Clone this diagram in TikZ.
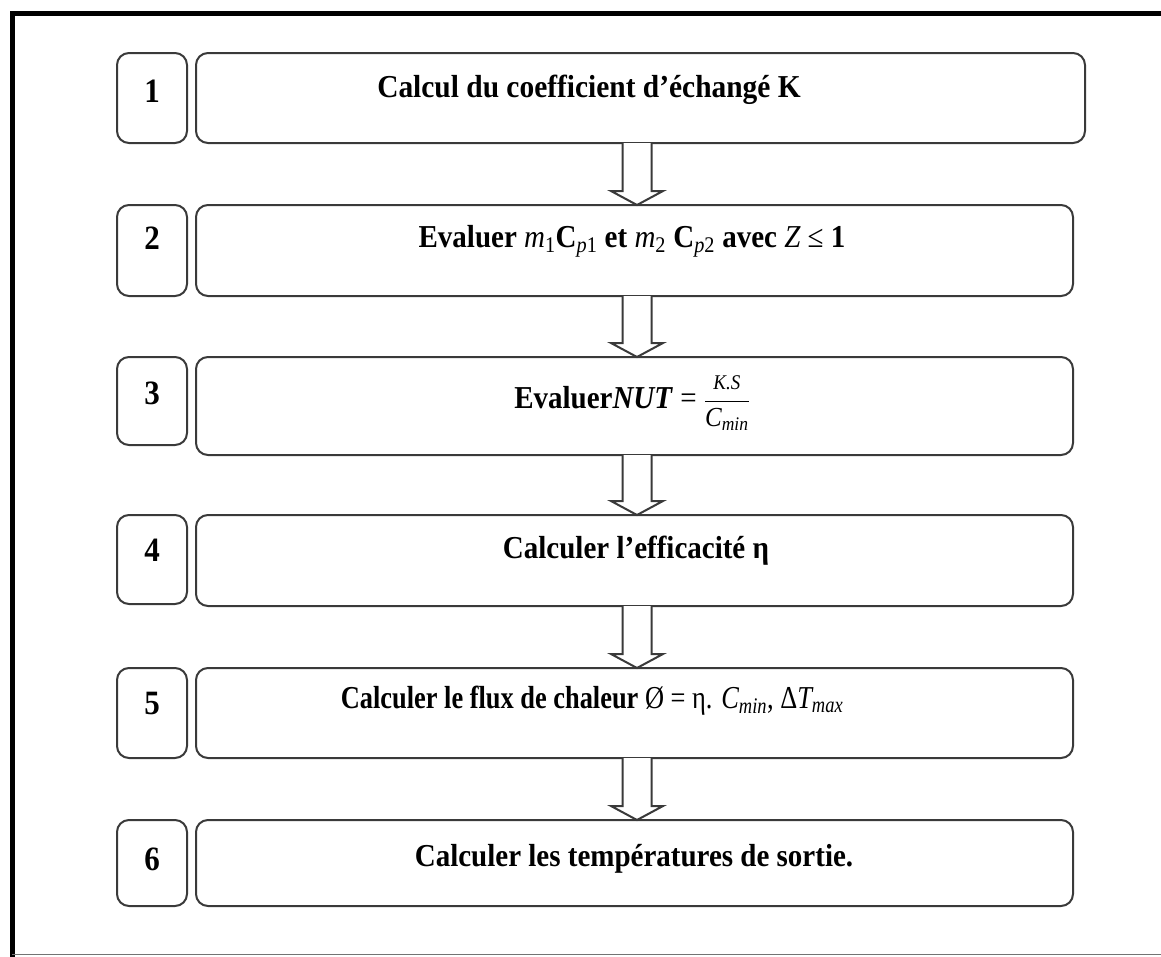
\documentclass[tikz,border=0pt]{standalone}
\usepackage{fontspec}
\setmainfont{Liberation Serif}
\usetikzlibrary{calc}
\definecolor{boxgray}{HTML}{3A3A3A}
\newcommand{\vs}[1]{\scalebox{1}[1.1]{#1}}
\newcommand{\mi}[1]{{\mdseries\itshape #1}}
\newcommand{\sub}[1]{\textsubscript{#1}}
\begin{document}
\begin{tikzpicture}[x=1pt,y=-1pt,
  box/.style={draw=boxgray, line width=2pt, rounded corners=12pt, inner sep=0pt, outer sep=0pt},
  txt/.style={anchor=base, inner sep=0pt, font=\bfseries\fontsize{29}{34}\selectfont},
  num/.style={anchor=base, inner sep=0pt, font=\bfseries\fontsize{31}{36}\selectfont},
  harrow/.style={draw=boxgray, line width=2pt, line join=miter, fill=white}]
\useasboundingbox (0,0) rectangle (1161,956);
\clip (0,0) rectangle (1161,956);
% outer frame
\draw[line width=5pt] (1175,13) -- (12,13) -- (12,970);
\draw[line width=1.5pt, black!55] (12,954.5) -- (1161,954.5);
\coordinate (ax) at (637,0);
% number boxes
\node[box, minimum width=70pt, minimum height=90pt] (n1) at (152,98) {};
\node[box, minimum width=70pt, minimum height=91pt] (n2) at (152,250.5) {};
\node[box, minimum width=70pt, minimum height=88pt] (n3) at (152,401) {};
\node[box, minimum width=70pt, minimum height=89pt] (n4) at (152,559.5) {};
\node[box, minimum width=70pt, minimum height=90pt] (n5) at (152,713) {};
\node[box, minimum width=70pt, minimum height=86pt] (n6) at (152,863) {};
% main boxes
\node[box, minimum width=889pt, minimum height=90pt] (m1) at (640.5,98) {};
\node[box, minimum width=877pt, minimum height=91pt] (m2) at (634.5,250.5) {};
\node[box, minimum width=877pt, minimum height=98pt] (m3) at (634.5,406) {};
\node[box, minimum width=877pt, minimum height=91pt] (m4) at (634.5,560.5) {};
\node[box, minimum width=877pt, minimum height=90pt] (m5) at (634.5,713) {};
\node[box, minimum width=877pt, minimum height=86pt] (m6) at (634.5,863) {};
% numbers
\node[num] (t1) at (152,102) {\vs{1}};
\node[num] (t2) at (152,249) {\vs{2}};
\node[num] (t3) at (152,404) {\vs{3}};
\node[num] (t4) at (152,561) {\vs{4}};
\node[num] (t5) at (152,714) {\vs{5}};
\node[num] (t6) at (152,870) {\vs{6}};
% texts
\node[txt] (l1) at (589,97) {\scalebox{1.015}[1.1]{Calcul du coefficient d’échangé K}};
\node[txt] (l2) at (632,247) {\vs{Evaluer \mi{m}\sub{\mdseries 1}C\sub{\mi{p}\mdseries 1} et \mi{m}\sub{\mdseries 2} C\sub{\mi{p}\mdseries 2} avec \mi{Z} {\mdseries ≤} 1}};
\node[txt] (l3) at (632,408) {\vs{Evaluer\textit{NUT} {\mdseries =} $\displaystyle{\mbox{\fontsize{19}{19}\selectfont\mdseries\itshape K.S}\over\mbox{\fontsize{25}{25}\selectfont\mdseries\itshape C\sub{min}}}$}};
\node[txt] (l4) at (636,558) {\vs{Calculer l’efficacité η}};
\node[txt] (l5) at (592,708) {\scalebox{0.91}[1.1]{Calculer le flux de chaleur {\mdseries Ø = η.} \mi{C}\sub{\mi{min}}{\mdseries ,} {\mdseries Δ}\mi{T}\sub{\mi{max}}}};
\node[txt] (l6) at (634,866) {\vs{Calculer les températures de sortie.}};
% hollow arrows
\foreach \a/\b in {m1/m2,m2/m3,m3/m4,m4/m5,m5/m6}{
  \draw[harrow] ($(ax |- \a.south)+(-14.5,0)$) -- ($(ax |- \b.north)+(-14.5,-14)$)
     -- ($(ax |- \b.north)+(-26,-14)$) -- (ax |- \b.north)
     -- ($(ax |- \b.north)+(26,-14)$) -- ($(ax |- \b.north)+(14.5,-14)$)
     -- ($(ax |- \a.south)+(14.5,0)$);
}
\end{tikzpicture}
\end{document}
